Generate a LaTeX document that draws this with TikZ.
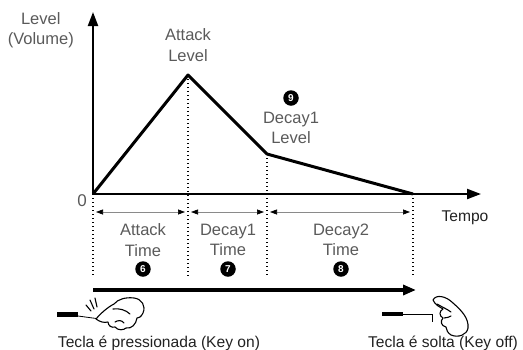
\documentclass[tikz,border=0pt]{standalone}
\usepackage{fontspec}
\setmainfont{Liberation Sans}
\usetikzlibrary{arrows.meta}
\definecolor{labelgray}{HTML}{5A5A5A}
\definecolor{dimgray}{HTML}{8A8A8A}
\definecolor{textdark}{HTML}{222222}
\tikzset{
  lbl/.style={text=labelgray, font=\fontsize{16.5}{20.5}\selectfont, align=center, inner sep=0pt},
  txt/.style={text=textdark, font=\fontsize{15.6}{18}\selectfont, inner sep=0pt},
  badge/.style={circle, fill=black, text=white, inner sep=0pt, minimum size=15.5pt,
    font=\fontsize{10}{10}\selectfont\bfseries},
  axis/.style={line width=2.2pt, -{Triangle[length=14pt,width=10pt]}},
  env/.style={line width=3pt, line join=round},
  guide/.style={line width=1.1pt, dash pattern=on 1.4pt off 2.6pt},
  dim/.style={dimgray, line width=0.7pt,
    {Triangle[length=7pt,width=5pt,fill=black,color=black]}-{Triangle[length=7pt,width=5pt,fill=black,color=black]}},
  keybar/.style={line width=4.5pt},
  handline/.style={line width=1.1pt, line join=round, line cap=round}
}
\begin{document}
\begin{tikzpicture}[x=1pt,y=-1pt]
\useasboundingbox (0,0) rectangle (523,349);

% envelope points
\coordinate (O) at (93,194);
\coordinate (peak) at (188,75);
\coordinate (d1) at (267,154);
\coordinate (end) at (413,194);
\coordinate (ytip) at (93,12);
\coordinate (xtip) at (481,194);

% guide lines
\coordinate (gO) at (93,276);
\coordinate (gA) at (188,276);
\coordinate (gD) at (267,276);
\coordinate (gE) at (413,276);
\draw[guide] (O) -- (gO);
\draw[guide] (peak) -- (gA);
\draw[guide] (d1) -- (gD);
\draw[guide] (end) -- (gE);

% axes
\draw[axis] (O) -- (ytip);
\draw[axis] (O) -- (xtip);

% envelope
\draw[env] (O) -- (peak) -- (d1) -- (end);

% duration arrows
\coordinate (a1) at (96,212);
\coordinate (a2) at (185,212);
\coordinate (b1) at (191,212);
\coordinate (b2) at (264,212);
\coordinate (c1) at (270,212);
\coordinate (c2) at (410,212);
\draw[dim] (a1) -- (a2);
\draw[dim] (b1) -- (b2);
\draw[dim] (c1) -- (c2);

% labels
\node[lbl, anchor=east] (lv) at (74,30) {Level\\(Volume)};
\node[lbl] (al) at (188,45) {Attack\\Level};
\node[badge] (n9) at (291,98) {9};
\node[lbl] (dl) at (291,128) {Decay1\\Level};
\node[txt, text=labelgray, font=\fontsize{17}{17}\selectfont] (zero) at (82,201) {0};
\node[txt] (tempo) at (465,218) {Tempo};

\node[lbl] (at) at (143,240) {Attack\\Time};
\node[badge] (n6) at (143,269) {6};
\node[lbl] (d1t) at (228,240) {Decay1\\Time};
\node[badge] (n7) at (228,269) {7};
\node[lbl] (d2t) at (341,240) {Decay2\\Time};
\node[badge] (n8) at (341,269) {8};

% key held
\coordinate (hold0) at (93,290);
\coordinate (hold1) at (416,290);
\draw[line width=3.6pt, -{Triangle[length=13pt,width=10pt]}] (hold0) -- (hold1);

% key pressed: key and finger
\draw[keybar] (57,314.5) -- (78,314.5);
\draw[line width=0.8pt] (78,316) -- (100,319);
\draw[handline] (86,305) -- (91,311);
\draw[handline] (90,300) -- (94,309);
\draw[handline] (95,298) -- (97,307);
\draw[handline, fill=white]
  (96,319) .. controls (101,313) and (108,307) .. (114,304)
  .. controls (118,299) and (126,297) .. (134,298)
  .. controls (142,299) and (146,306) .. (143,313)
  .. controls (141,317) and (139,318) .. (137,318)
  .. controls (136,324) and (132,329) .. (126,328)
  .. controls (124,330) and (118,331) .. (115,327)
  .. controls (112,328) and (108,326) .. (108,322)
  .. controls (104,323) and (100,322) .. (96,319) -- cycle;
\draw[handline] (113,309) .. controls (119,308) and (126,310) .. (130,314);
\draw[handline] (115,322) .. controls (118,320) and (122,320) .. (124,323);

% key released: key and finger
\draw[keybar] (382,314) -- (403,314);
\draw[line width=0.8pt] (403,314) -- (432,314) -- (432,322);
\draw[handline, fill=white]
  (433,300) .. controls (436,294) and (446,296) .. (453,303)
  .. controls (461,310) and (469,318) .. (468,328)
  .. controls (467,335) and (458,338) .. (451,335)
  .. controls (448,333) and (446,330) .. (446,327)
  .. controls (441,326) and (440,321) .. (443,318)
  .. controls (439,316) and (439,311) .. (443,309)
  .. controls (440,307) and (435,305) .. (433,300) -- cycle;
\draw[handline] (437,304) .. controls (442,307) and (447,309) .. (451,312);
\draw[handline] (444,318) .. controls (447,318) and (449,317) .. (451,316);

% captions
\node[txt] (on) at (159,343) {Tecla é pressionada (Key on)};
\node[txt] (off) at (443,343) {Tecla é solta (Key off)};
\end{tikzpicture}
\end{document}
